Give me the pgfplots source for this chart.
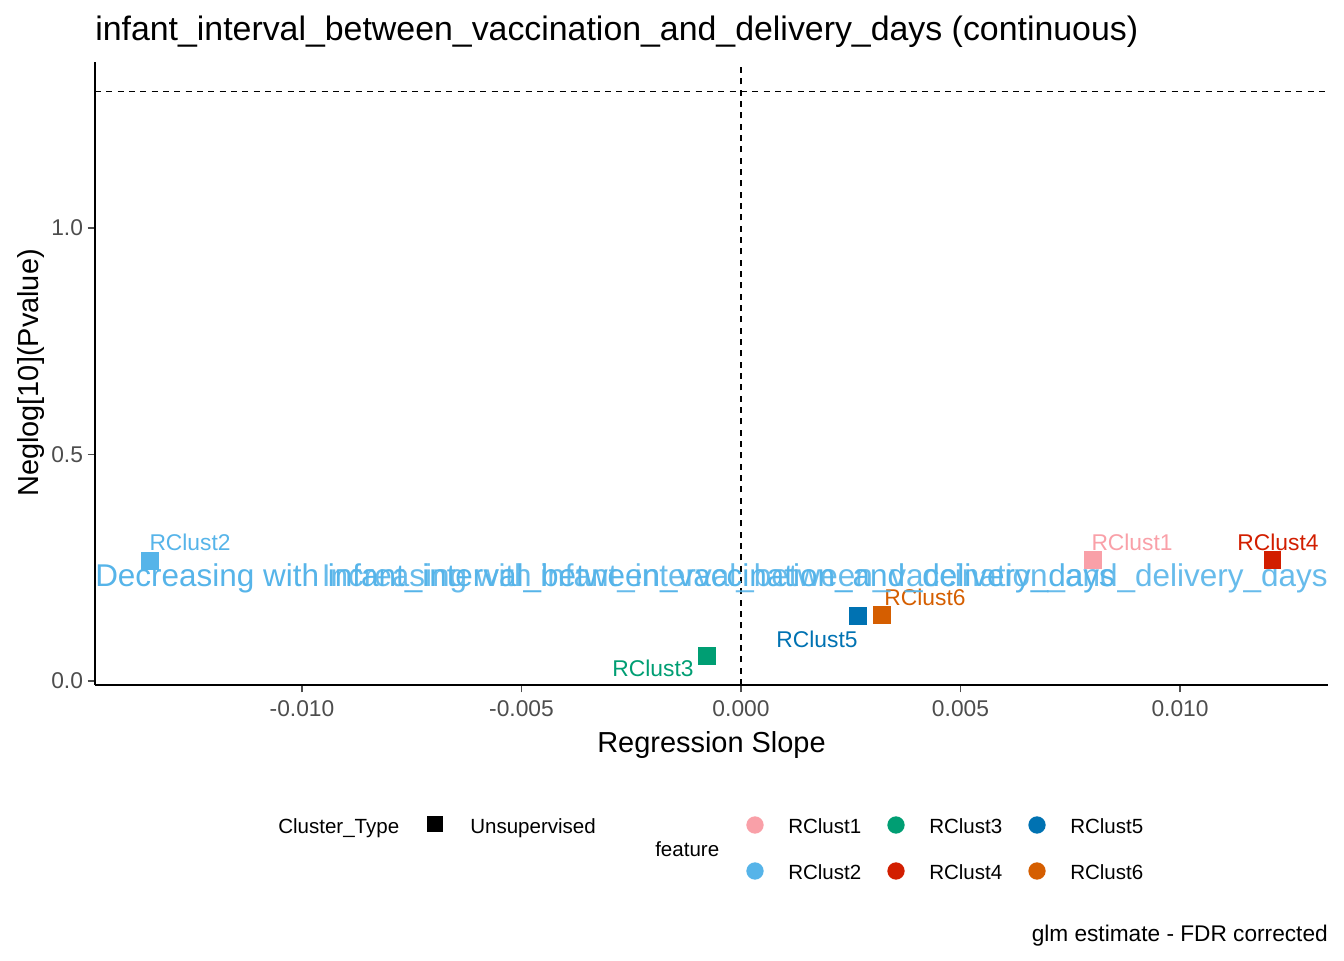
\documentclass[border=0pt]{standalone}
\usepackage{pgfplots}
\pgfplotsset{compat=1.18}
\usepackage{fontspec}
\setmainfont{Liberation Sans}
\definecolor{c1}{HTML}{F9A0A8}
\definecolor{c2}{HTML}{56B4E9}
\definecolor{c3}{HTML}{009E73}
\definecolor{c4}{HTML}{D21E00}
\definecolor{c5}{HTML}{0072B2}
\definecolor{c6}{HTML}{D55E00}
\definecolor{tickgray}{HTML}{4D4D4D}
\newcommand\fs[1]{\fontsize{#1}{#1}\selectfont}
\begin{document}
\begin{tikzpicture}
\useasboundingbox (0,0) rectangle (1008pt,720pt);
\begin{axis}[
  at={(71.25pt,206.25pt)}, anchor=south west,
  scale only axis, width=924.75pt, height=467.25pt,
  xmin=-0.014715, xmax=0.013371, ymin=-0.00883, ymax=1.3664,
  axis x line*=bottom, axis y line*=left,
  axis line style={line width=1.1pt, black},
  scaled x ticks=false, scaled y ticks=false,
  xtick={-0.01,-0.005,0,0.005,0.01},
  xticklabels={-0.010,-0.005,0.000,0.005,0.010},
  ytick={0,0.5,1},
  yticklabels={0.0,0.5,1.0},
  tick align=outside, major tick length=5.5pt,
  tick style={line width=0.8pt, tickgray},
  xticklabel style={font=\fs{17.1}, text=tickgray, yshift=-2.5pt},
  yticklabel style={font=\fs{17.1}, text=tickgray},
  clip=false,
]
\addplot[black, line width=1pt, dash pattern=on 4.5pt off 4pt, forget plot] coordinates {(0,-0.00883) (0,1.3664)};
\addplot[black, line width=1pt, dash pattern=on 4.5pt off 4pt, forget plot] coordinates {(-0.014715,1.301) (0.013371,1.301)};
\addplot[only marks, mark=square*, mark size=6.25pt, color=c1] coordinates {(0.008018,0.267)};
\addplot[only marks, mark=square*, mark size=6.25pt, color=c2] coordinates {(-0.01346,0.265)};
\addplot[only marks, mark=square*, mark size=6.25pt, color=c3] coordinates {(-0.000774,0.055)};
\addplot[only marks, mark=square*, mark size=6.25pt, color=c4] coordinates {(0.0121,0.267)};
\addplot[only marks, mark=square*, mark size=6.25pt, color=c5] coordinates {(0.002665,0.1435)};
\addplot[only marks, mark=square*, mark size=6.25pt, color=c6] coordinates {(0.003212,0.1457)};
\node[text=c2, font=\fs{17.1}, anchor=base] at (axis cs:-0.01255,0.2888) {RClust2};
\node[text=c3, font=\fs{17.1}, anchor=base] at (axis cs:-0.002005,0.0110) {RClust3};
\node[text=c5, font=\fs{17.1}, anchor=base] at (axis cs:0.001731,0.0750) {RClust5};
\node[text=c6, font=\fs{17.1}, anchor=base] at (axis cs:0.004191,0.1677) {RClust6};
\node[text=c1, font=\fs{17.1}, anchor=base] at (axis cs:0.008907,0.2888) {RClust1};
\node[text=c4, font=\fs{17.1}, anchor=base] at (axis cs:0.012232,0.2888) {RClust4};
\node[text=c2, font=\fs{23.6}, anchor=base west, inner sep=0pt] at (axis cs:-0.014715,0.2075) {Decreasing with infant\_interval\_between\_vaccination\_and\_delivery\_days};
\node[text=c2, font=\fs{23.6}, anchor=base east, inner sep=0pt, opacity=0.9] at (axis cs:0.013371,0.2075) {Increasing with infant\_interval\_between\_vaccination\_and\_delivery\_days};
\end{axis}
% title
\node[anchor=base west, inner sep=0pt, font=\fs{25.4}] at ({95*0.75pt},{(960-41)*0.75pt}) {infant\_interval\_between\_vaccination\_and\_delivery\_days (continuous)};
% axis labels
\node[anchor=base, inner sep=0pt, font=\fs{21.7}] at ({711.5*0.75pt},{(960-752)*0.75pt}) {Regression Slope};
\node[anchor=base, inner sep=0pt, rotate=90, font=\fs{21.7}] at ({38*0.75pt},{(960-373)*0.75pt}) {Neglog[10](Pvalue)};
% legend
\node[anchor=base west, inner sep=0pt, font=\fs{15.4}] at ({278*0.75pt},{(960-833)*0.75pt}) {Cluster\_Type};
\fill[black] ({(435-8)*0.75pt},{(960-824-8)*0.75pt}) rectangle ({(435+8)*0.75pt},{(960-824+8)*0.75pt});
\node[anchor=base west, inner sep=0pt, font=\fs{15.4}] at ({470*0.75pt},{(960-833)*0.75pt}) {Unsupervised};
\node[anchor=base west, inner sep=0pt, font=\fs{15.4}] at ({655*0.75pt},{(960-856)*0.75pt}) {feature};
\foreach \cx/\cy/\cc/\lab in {755/825/c1/RClust1, 755/871/c2/RClust2, 896/825/c3/RClust3, 896/871/c4/RClust4, 1037/825/c5/RClust5, 1037/871/c6/RClust6}{
  \fill[\cc] ({\cx*0.75pt},{(960-\cy)*0.75pt}) circle (6.5pt);
  \node[anchor=base west, inner sep=0pt, font=\fs{15.4}] at ({(\cx+33)*0.75pt},{(960-\cy-8)*0.75pt}) {\lab};
}
% caption
\node[anchor=base east, inner sep=0pt, font=\fs{17}] at ({1328*0.75pt},{(960-941)*0.75pt}) {glm estimate - FDR corrected};
\end{tikzpicture}
\end{document}
